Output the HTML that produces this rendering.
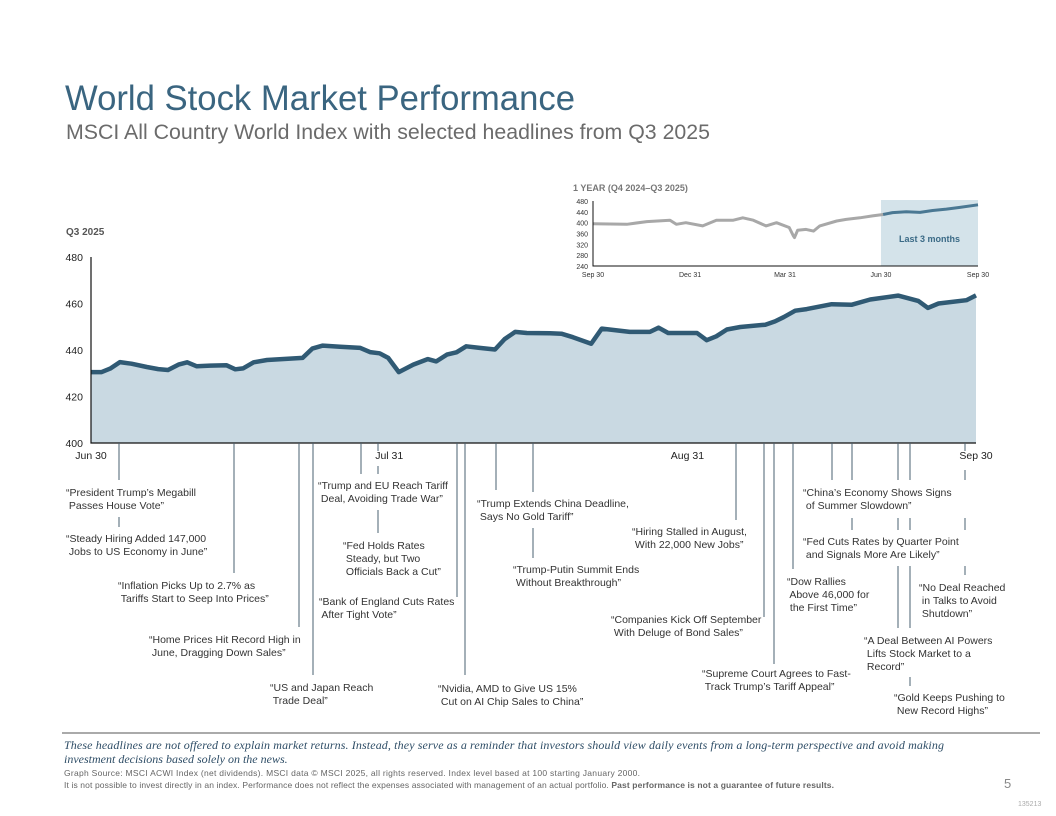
<!DOCTYPE html>
<html><head><meta charset="utf-8"><style>
html,body{margin:0;padding:0;background:#fff;}
svg{display:block;font-family:"Liberation Sans",Arial,sans-serif;}
</style></head><body>
<svg id="s" width="1056" height="816" viewBox="0 0 1056 816">
<text x="65" y="110" font-size="35" fill="#3a6580" textLength="510" lengthAdjust="spacingAndGlyphs">World Stock Market Performance</text>
<text x="66" y="139" font-size="21" fill="#6b6b6b" textLength="644" lengthAdjust="spacingAndGlyphs">MSCI All Country World Index with selected headlines from Q3 2025</text>
<text x="66" y="235" font-size="10" font-weight="bold" fill="#555">Q3 2025</text>
<text x="573" y="191" font-size="9" font-weight="bold" fill="#777">1 YEAR (Q4 2024–Q3 2025)</text>
<g id="main"></g>
<g id="inset"></g>
<g id="ann"></g>
<line x1="62" y1="733" x2="1040" y2="733" stroke="#555" stroke-width="1"/>
<text font-family="Liberation Serif,serif" font-style="italic" font-size="12" fill="#2e4d66"><tspan x="64" y="749" textLength="880">These headlines are not offered to explain market returns. Instead, they serve as a reminder that investors should view daily events from a long-term perspective and avoid making</tspan><tspan x="64" y="763">investment decisions based solely on the news.</tspan></text>
<text x="64" y="776" font-size="8.5" fill="#666" textLength="576">Graph Source: MSCI ACWI Index (net dividends). MSCI data © MSCI 2025, all rights reserved. Index level based at 100 starting January 2000.</text>
<text x="64" y="788" font-size="8.5" fill="#666" textLength="770">It is not possible to invest directly in an index. Performance does not reflect the expenses associated with management of an actual portfolio. <tspan font-weight="bold">Past performance is not a guarantee of future results.</tspan></text>
<text x="1004" y="788" font-size="13" fill="#888">5</text>
<text x="1018" y="806" font-size="7" fill="#aaa">135213</text>
</svg>
<script>
const NS='http://www.w3.org/2000/svg';
// main chart data (calendar day offset from Jun 30, index level)
const mainDays=[0,1.1,2,3,4.2,5.8,7,8,9.1,10,11,12.4,14.1,15,15.8,16.9,18.3,22,23,24.1,25.9,28,29,30,30.9,32,33.5,35,35.9,37,38,39,40.4,42,43,44.1,45.3,47.7,48.9,50.1,52,53.1,56,58.1,59,60,63,64,65,66.1,67.5,70.1,71.1,72,73.2,74.4,77,79.1,81,83.9,86,87,88.1,91,92];
const mainValues=[430.5,430.5,432,434.8,434.1,432.7,431.8,431.4,433.7,434.7,433,433.3,433.4,431.7,432.1,434.7,435.7,436.6,440.6,441.9,441.4,440.9,439.1,438.6,436.6,430.5,433.7,436.1,435.1,438,439,441.6,440.9,440.2,444.7,447.8,447.3,447.2,447,445.5,442.7,449.2,447.8,447.8,449.6,447.3,447.3,444.2,445.9,448.8,449.9,450.9,452.3,454.1,456.9,457.6,459.7,459.5,461.7,463.4,461.1,458.1,460,461.4,463.5];
const mainYTicks=[400,420,440,460,480];
const mainXTicks=[0,31,62,92];
const mainXLabels=['Jun 30','Jul 31','Aug 31','Sep 30'];
// inset data (day offset from Sep 30 2024)
const insetDays=[0,32,51,73,79,88,104,117,133,142,152,164,174,186,190,191,194,202,209,215,231,240,253,265,275,284,297,310,322,335,347,365];
const insetValues=[396,394,404,409,394,400,388,409,409,418,409,388,400,382,351,345,372,375,369,388,406,412,418,425,430,437,440,438,445,450,456,466];
const insetYTicks=[240,280,320,360,400,440,480];
const insetXTicks=[0,92,182,273,365];
const insetXLabels=['Sep 30','Dec 31','Mar 31','Jun 30','Sep 30'];
const insetSplitDay=273;

function el(tag,attrs,parent,txt){const e=document.createElementNS(NS,tag);for(const k in attrs)e.setAttribute(k,attrs[k]);if(txt!==undefined)e.textContent=txt;parent.appendChild(e);return e;}

const M=document.getElementById('main');
const mx=d=>91+d*(976-91)/92, my=v=>443-(v-400)*(443-257)/80;
let pts=mainDays.map((d,i)=>mx(d).toFixed(1)+','+my(mainValues[i]).toFixed(1));
let area=el('path',{d:'M'+mx(0)+','+my(400)+' L'+pts.join(' L')+' L'+mx(mainDays[mainDays.length-1])+','+my(400)+' Z',fill:'#c9d9e2'},M);


let ln=el('polyline',{points:pts.join(' '),fill:'none',stroke:'#305a74','stroke-width':4.5,'stroke-linejoin':'round'},M);


let ax=el('path',{d:`M91,257 L91,443 L976,443`,fill:'none',stroke:'#111','stroke-width':1.2},M);


mainYTicks.forEach(v=>{const t=el('text',{x:83,y:my(v)+4,'font-size':10.5,fill:'#222','text-anchor':'end'},M,v);

});
mainXTicks.forEach((d,i)=>{const t=el('text',{x:mx(d),y:459,'font-size':10.5,fill:'#222','text-anchor':'middle'},M,mainXLabels[i]);

});

const I=document.getElementById('inset');
const ix=d=>593+d*(978-593)/365, iy=v=>266-(v-240)*(266-201)/240;
let sh=el('rect',{x:ix(insetSplitDay),y:200,width:978-ix(insetSplitDay),height:66,fill:'#d4e3ea'},I);


let lt=el('text',{x:(ix(insetSplitDay)+978)/2,y:242,'font-size':9,'font-weight':'bold',fill:'#3a6a86','text-anchor':'middle'},I,'Last 3 months');


let gp=[],bp=[];
insetDays.forEach((d,i)=>{const p=ix(d).toFixed(1)+','+iy(insetValues[i]).toFixed(1);if(d<=insetSplitDay+2)gp.push(p);if(d>=insetSplitDay)bp.push(p);});
let g1=el('polyline',{points:gp.join(' '),fill:'none',stroke:'#a8a8a8','stroke-width':3,'stroke-linejoin':'round'},I);


let b1=el('polyline',{points:bp.join(' '),fill:'none',stroke:'#4a7893','stroke-width':3,'stroke-linejoin':'round'},I);


let iax=el('path',{d:'M593,201 L593,266 L978,266',fill:'none',stroke:'#111','stroke-width':1},I);


insetYTicks.forEach(v=>{const t=el('text',{x:588,y:iy(v)+3,'font-size':7,fill:'#333','text-anchor':'end'},I,v);

});
insetXTicks.forEach((d,i)=>{const t=el('text',{x:ix(d),y:277,'font-size':7,fill:'#333','text-anchor':'middle'},I,insetXLabels[i]);

});

const A=document.getElementById('ann');
const leaders=[[119,443,480],[119,517,527],[234,443,573],[299,443,627],[313,443,675],[361,443,474],[378,443,451],[378,466,474],[378,510,533],[457,443,597],[465,443,675],[496,443,490],[533,443,492],[533,528,558],[736,443,520],[764,443,617],[774,443,664],[793,443,569],[832,443,480],[852,443,480],[852,518,530],[898,443,480],[898,518,530],[898,566,628],[910,443,480],[910,518,530],[910,566,628],[910,677,686],[965,443,451],[965,470,480],[965,518,530],[965,566,575]];
leaders.forEach(l=>{const e=el('line',{x1:l[0],y1:l[1],x2:l[0],y2:l[2],stroke:'#4a6070','stroke-width':1},A);

});
const notes=[
[66,487,['“President Trump’s Megabill',' Passes House Vote”']],
[66,533,['“Steady Hiring Added 147,000',' Jobs to US Economy in June”']],
[118,580,['“Inflation Picks Up to 2.7% as','  Tariffs Start to Seep Into Prices”']],
[149,634,['“Home Prices Hit Record High in','  June, Dragging Down Sales”']],
[270,682,['“US and Japan Reach','  Trade Deal”']],
[318,480,['“Trump and EU Reach Tariff','  Deal, Avoiding Trade War”']],
[343,540,['“Fed Holds Rates','  Steady, but Two','  Officials Back a Cut”']],
[319,596,['“Bank of England Cuts Rates','  After Tight Vote”']],
[438,683,['“Nvidia, AMD to Give US 15%','  Cut on AI Chip Sales to China”']],
[477,498,['“Trump Extends China Deadline,','  Says No Gold Tariff”']],
[513,564,['“Trump-Putin Summit Ends','  Without Breakthrough”']],
[632,526,['“Hiring Stalled in August,','  With 22,000 New Jobs”']],
[611,614,['“Companies Kick Off September','  With Deluge of Bond Sales”']],
[702,668,['“Supreme Court Agrees to Fast-','  Track Trump’s Tariff Appeal”']],
[787,576,['“Dow Rallies','  Above 46,000 for','  the First Time”']],
[803,487,['“China’s Economy Shows Signs','  of Summer Slowdown”']],
[803,536,['“Fed Cuts Rates by Quarter Point','  and Signals More Are Likely”']],
[919,582,['“No Deal Reached','  in Talks to Avoid','  Shutdown”']],
[864,635,['“A Deal Between AI Powers','  Lifts Stock Market to a','  Record”']],
[894,692,['“Gold Keeps Pushing to','  New Record Highs”']]
];
notes.forEach(n=>{const t=el('text',{x:n[0],y:n[1]+9,'font-size':10.5,fill:'#333','xml:space':'preserve'},A);


n[2].forEach((s,i)=>{el('tspan',{x:n[0],y:n[1]+9+i*13},t,s);});});
</script>
</body></html>
